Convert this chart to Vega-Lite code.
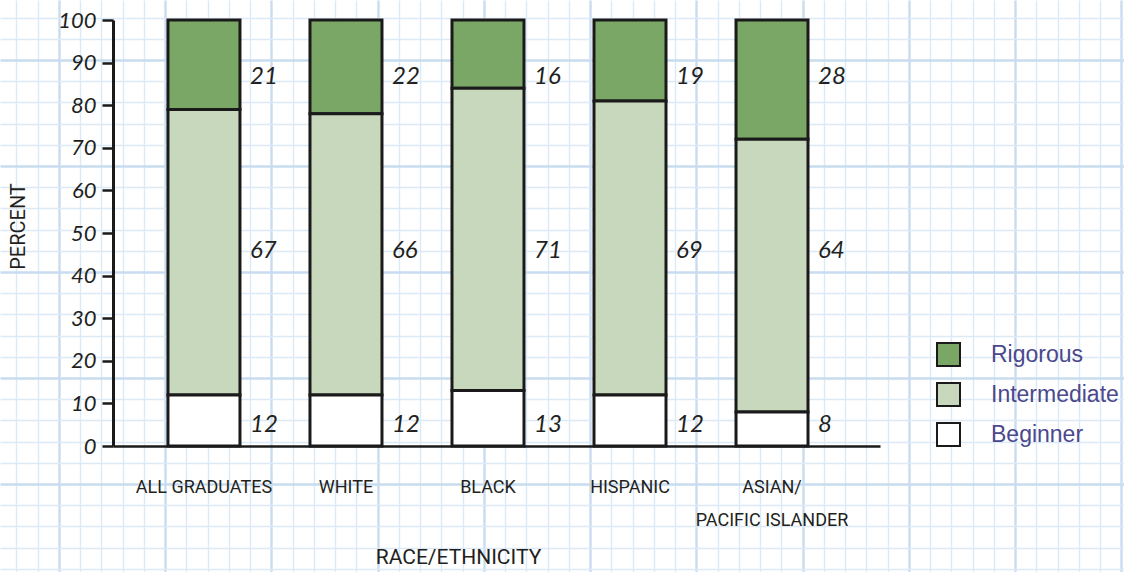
{
  "$schema": "https://vega.github.io/schema/vega-lite/v6.json",
  "width": 1124,
  "height": 572,
  "autosize": {"type": "none"},
  "padding": 0,
  "background": "white",
  "config": {"view": {"stroke": null}},
  "data": {
    "values": [
      {"group": "ALL GRADUATES", "level": "Rigorous", "percent": 21},
      {"group": "ALL GRADUATES", "level": "Intermediate", "percent": 67},
      {"group": "ALL GRADUATES", "level": "Beginner", "percent": 12},
      {"group": "WHITE", "level": "Rigorous", "percent": 22},
      {"group": "WHITE", "level": "Intermediate", "percent": 66},
      {"group": "WHITE", "level": "Beginner", "percent": 12},
      {"group": "BLACK", "level": "Rigorous", "percent": 16},
      {"group": "BLACK", "level": "Intermediate", "percent": 71},
      {"group": "BLACK", "level": "Beginner", "percent": 13},
      {"group": "HISPANIC", "level": "Rigorous", "percent": 19},
      {"group": "HISPANIC", "level": "Intermediate", "percent": 69},
      {"group": "HISPANIC", "level": "Beginner", "percent": 12},
      {"group": "ASIAN/PACIFIC ISLANDER", "level": "Rigorous", "percent": 28},
      {"group": "ASIAN/PACIFIC ISLANDER", "level": "Intermediate", "percent": 64},
      {"group": "ASIAN/PACIFIC ISLANDER", "level": "Beginner", "percent": 8}
    ]
  },
  "layer": [
    {
      "mark": {"type": "point", "opacity": 0},
      "encoding": {
        "x": {
          "datum": 10,
          "type": "quantitative",
          "scale": {"domain": [2.235, 55.129], "nice": false, "zero": false},
          "axis": {
            "orient": "top",
            "values": [3,4,5,6,7,8,9,10,11,12,13,14,15,16,17,18,19,20,21,22,23,24,25,26,27,28,29,30,31,32,33,34,35,36,37,38,39,40,41,42,43,44,45,46,47,48,49,50,51,52,53,54,55],
            "grid": true,
            "labels": false,
            "ticks": false,
            "domain": false,
            "title": null,
            "zindex": 0,
            "gridColor": {"condition": {"test": "datum.value % 5 === 0", "value": "#c9dcef"}, "value": "#dceaf7"},
            "gridWidth": {"condition": {"test": "datum.value % 5 === 0", "value": 2.4}, "value": 1.4}
          }
        },
        "y": {
          "datum": 10,
          "type": "quantitative",
          "scale": {"domain": [0.849, 27.830], "nice": false, "zero": false},
          "axis": {
            "orient": "right",
            "values": [1,2,3,4,5,6,7,8,9,10,11,12,13,14,15,16,17,18,19,20,21,22,23,24,25,26,27],
            "grid": true,
            "labels": false,
            "ticks": false,
            "domain": false,
            "title": null,
            "zindex": 0,
            "gridColor": {"condition": {"test": "datum.value % 5 === 0", "value": "#c9dcef"}, "value": "#dceaf7"},
            "gridWidth": {"condition": {"test": "datum.value % 5 === 0", "value": 2.4}, "value": 1.4}
          }
        }
      }
    },
    {
      "mark": {"type": "bar", "stroke": "#1a1a1a", "strokeWidth": 3},
      "encoding": {
        "x": {
          "field": "group",
          "type": "nominal",
          "scale": {
            "type": "band",
            "domain": ["ALL GRADUATES", "WHITE", "BLACK", "HISPANIC", "ASIAN/PACIFIC ISLANDER"],
            "range": [113, 880],
            "paddingInner": 0.493,
            "paddingOuter": 0.447,
            "align": 0.433
          },
          "axis": {
            "orient": "bottom",
            "offset": -126,
            "zindex": 1,
            "domain": true,
            "domainColor": "#1a1a1a",
            "domainWidth": 2.5,
            "ticks": false,
            "tickSize": 0,
            "grid": false,
            "labelAngle": 0,
            "labelPadding": 46,
            "labelBaseline": "alphabetic",
            "labelFont": "Roboto",
            "labelFontSize": 18,
            "labelColor": "#231f20",
            "labelLineHeight": 33,
            "labelExpr": "datum.value == 'ASIAN/PACIFIC ISLANDER' ? ['ASIAN/', 'PACIFIC ISLANDER'] : datum.label",
            "title": "RACE/ETHNICITY",
            "titleFont": "Roboto",
            "titleFontSize": 21,
            "titleFontWeight": "normal",
            "titleColor": "#231f20",
            "titleX": 458,
            "titleY": 117,
            "titleBaseline": "alphabetic",
            "titleAlign": "center"
          }
        },
        "y": {
          "field": "percent",
          "type": "quantitative",
          "stack": "zero",
          "scale": {"domain": [0, 100], "range": [446, 20], "nice": false},
          "axis": {
            "orient": "left",
            "offset": -113,
            "zindex": 1,
            "values": [0, 10, 20, 30, 40, 50, 60, 70, 80, 90, 100],
            "grid": false,
            "domain": true,
            "domainColor": "#1a1a1a",
            "domainWidth": 3,
            "ticks": true,
            "tickSize": 11,
            "tickWidth": 2.5,
            "tickColor": "#1a1a1a",
            "labelPadding": 6,
            "labelFont": "Lato",
            "labelFontStyle": "italic",
            "labelFontWeight": "normal",
            "labelFontSize": 22,
            "labelColor": "#231f20",
            "title": "PERCENT",
            "titleFont": "Roboto",
            "titleFontSize": 20,
            "titleFontWeight": "normal",
            "titleColor": "#231f20",
            "titleAngle": -90,
            "titleX": -95,
            "titleY": 226,
            "titleBaseline": "middle",
            "titleAlign": "center"
          }
        },
        "order": {"field": "level", "sort": "ascending"},
        "color": {
          "field": "level",
          "type": "nominal",
          "scale": {
            "domain": ["Rigorous", "Intermediate", "Beginner"],
            "range": ["#7aa766", "#c8d8bd", "#ffffff"]
          },
          "legend": {
            "orient": "none",
            "legendX": 936,
            "legendY": 342,
            "title": null,
            "padding": 0,
            "symbolType": "square",
            "symbolSize": 529,
            "symbolStrokeColor": "#1a1a1a",
            "symbolStrokeWidth": 2,
            "symbolOpacity": 1,
            "labelFont": "Liberation Sans",
            "labelFontSize": 23,
            "labelColor": "#4b488c",
            "labelOffset": 30,
            "rowPadding": 9
          }
        }
      }
    },
    {
      "mark": {
        "type": "text",
        "align": "left",
        "baseline": "middle",
        "dx": 46,
        "font": "Lato",
        "fontStyle": "italic",
        "fontWeight": "normal",
        "fontSize": 24,
        "color": "#231f20"
      },
      "encoding": {
        "x": {
          "field": "group",
          "type": "nominal",
          "scale": {
            "type": "band",
            "domain": ["ALL GRADUATES", "WHITE", "BLACK", "HISPANIC", "ASIAN/PACIFIC ISLANDER"],
            "range": [113, 880],
            "paddingInner": 0.493,
            "paddingOuter": 0.447,
            "align": 0.433
          },
          "axis": null
        },
        "y": {
          "field": "level",
          "type": "nominal",
          "scale": {
            "type": "point",
            "domain": ["Rigorous", "Intermediate", "Beginner"],
            "range": [77, 425],
            "padding": 0
          },
          "axis": null
        },
        "text": {"field": "percent", "type": "quantitative"}
      }
    }
  ],
  "resolve": {"scale": {"x": "independent", "y": "independent"}}
}
